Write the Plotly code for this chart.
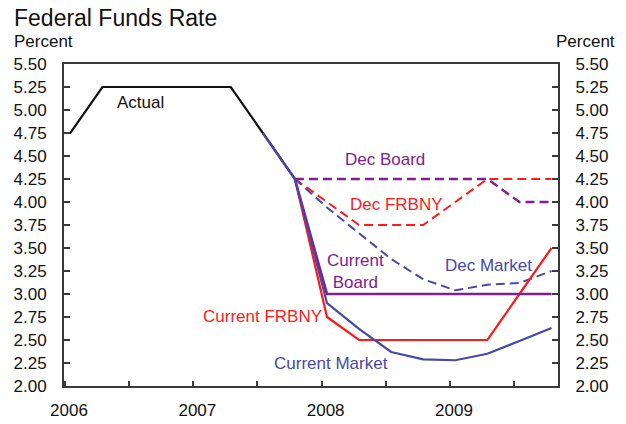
import plotly.graph_objects as go

# ---- data -------------------------------------------------------------
actual_q = ["2005Q4", "2006Q1", "2006Q2", "2006Q3", "2006Q4",
            "2007Q1", "2007Q2", "2007Q3", "2007Q4"]
actual = [4.75, 4.75, 5.25, 5.25, 5.25, 5.25, 5.25, 4.75, 4.25]

outlook_q = ["2007Q4", "2008Q1", "2008Q2", "2008Q3", "2008Q4",
             "2009Q1", "2009Q2", "2009Q3", "2009Q4"]
dec_board = [4.25, 4.25, 4.25, 4.25, 4.25, 4.25, 4.25, 4.00, 4.00]
dec_frbny = [4.25, 4.00, 3.75, 3.75, 3.75, 4.00, 4.25, 4.25, 4.25]
dec_market = [4.25, 3.94, 3.66, 3.38, 3.16, 3.04, 3.10, 3.12, 3.25]
current_frbny = [4.25, 2.75, 2.50, 2.50, 2.50, 2.50, 2.50, 3.00, 3.50]
current_board = [4.25, 3.00, 3.00, 3.00, 3.00, 3.00, 3.00, 3.00, 3.00]

market_q = ["2007Q3"] + outlook_q
current_market = [4.75, 4.25, 2.90, 2.62, 2.37, 2.29, 2.28, 2.35, 2.49, 2.63]

years = [2006, 2007, 2008, 2009]
y_ticks = [2.00, 2.25, 2.50, 2.75, 3.00, 3.25, 3.50, 3.75,
           4.00, 4.25, 4.50, 4.75, 5.00, 5.25, 5.50]

# ---- style ------------------------------------------------------------
FONT = "Liberation Sans, Arial, sans-serif"
BLACK = "#111111"
AXIS = "#3a3a3a"
BLUE = "#4848A8"
RED = "#FF1A1A"
PURPLE = "#80208F"
DASH = "9px,5px"

W, H = 626, 424
L, R, T, B = 64, 68, 64, 38


def qpos(label):
    """Quarter label -> decimal year, plotted mid first month of quarter."""
    year, q = int(label[:4]), int(label[-1])
    return year + (q - 1) / 4 + 1 / 24


def px(x, y):
    """Pixel location -> paper coordinates of the plot area."""
    return (x - L) / (W - L - R), (H - B - y) / (H - T - B)


fig = go.Figure()


def add_line(q, vals, color, width, dash="solid", axis="y"):
    fig.add_trace(go.Scatter(
        x=[qpos(v) for v in q], y=vals, mode="lines", yaxis=axis,
        line=dict(color=color, width=width, dash=dash),
        hoverinfo="skip", showlegend=False))


add_line(actual_q, actual, BLACK, 2.2)
add_line(outlook_q, dec_board, PURPLE, 2.4, DASH)
add_line(outlook_q, dec_frbny, RED, 2, DASH)
add_line(outlook_q, dec_market, BLUE, 2, DASH)
add_line(outlook_q, current_frbny, RED, 2.2)
add_line(outlook_q, current_board, PURPLE, 2.6)
add_line(market_q, current_market, BLUE, 2.2)
# right-hand axis carries the same scale
fig.add_trace(go.Scatter(x=[], y=[], yaxis="y2", showlegend=False,
                         hoverinfo="skip"))


def label(text, x, y, color):
    fig.add_annotation(x=x, y=y, xref="x", yref="y", text=text,
                       showarrow=False, align="center",
                       font=dict(family=FONT, size=17, color=color))


label("Actual", 2006.59, 5.08, BLACK)
label("Dec Board", 2008.495, 4.46, PURPLE)
label("Dec FRBNY", 2008.585, 3.97, RED)
label("Current<br>Board", 2008.26, 3.24, PURPLE)
label("Dec Market", 2009.30, 3.31, BLUE)
label("Current FRBNY", 2007.54, 2.76, RED)
label("Current Market", 2008.075, 2.25, BLUE)

# title and unit captions
tx, ty = px(12, 18)
fig.add_annotation(x=tx, y=ty, xref="paper", yref="paper", xanchor="left",
                   yanchor="middle", text="Federal Funds Rate", showarrow=False,
                   font=dict(family=FONT, size=23, color=BLACK))
for x0 in (12, 554):
    ux, uy = px(x0, 42)
    fig.add_annotation(x=ux, y=uy, xref="paper", yref="paper", xanchor="left",
                       yanchor="middle", text="Percent", showarrow=False,
                       font=dict(family=FONT, size=17, color=BLACK))

x_ticks = []
x_text = []
for yr in years:
    x_ticks += [yr, yr + 0.5]
    x_text += [str(yr), ""]

tick_font = dict(family=FONT, size=17, color=BLACK)
yax = dict(range=[2.0, 5.5], tickvals=y_ticks, tickformat=".2f",
           ticks="inside", ticklen=6, tickwidth=1.5, tickcolor=AXIS,
           showline=True, linecolor=AXIS, linewidth=2, showgrid=False,
           zeroline=False, tickfont=tick_font, ticklabelstandoff=12,
           automargin=False, fixedrange=True)

fig.update_layout(
    width=W, height=H,
    margin=dict(l=L, r=R, t=T, b=B, pad=0, autoexpand=False),
    paper_bgcolor="white", plot_bgcolor="white",
    font=dict(family=FONT, color=BLACK),
    xaxis=dict(range=[2005.992, 2009.842], tickvals=x_ticks, ticktext=x_text,
               ticks="inside", ticklen=5, tickwidth=1.5, tickcolor=AXIS,
               ticklabelshift=4, ticklabelstandoff=8,
               showline=True, linecolor=AXIS, linewidth=2, mirror=True,
               showgrid=False, zeroline=False, tickfont=tick_font,
               automargin=False, fixedrange=True),
    yaxis=dict(**yax, side="left"),
    yaxis2=dict(**yax, side="right", overlaying="y", anchor="x"),
)

fig.write_html("out.html")
